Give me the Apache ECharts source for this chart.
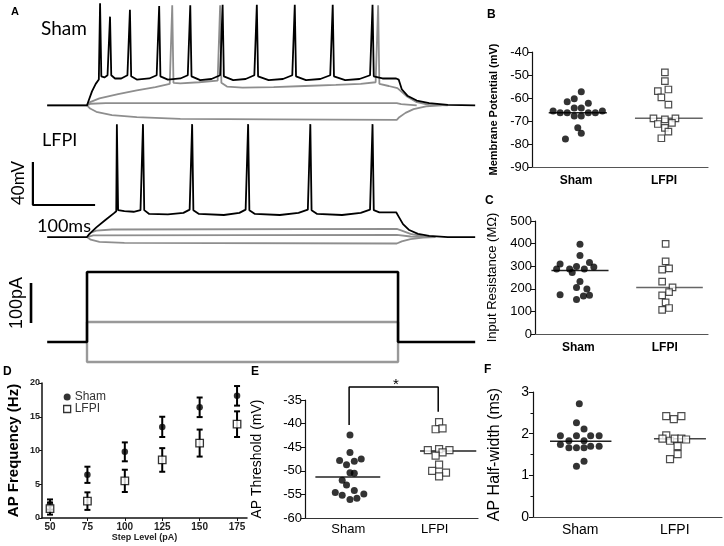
<!DOCTYPE html>
<html><head><meta charset="utf-8">
<script src="https://cdn.jsdelivr.net/npm/echarts@6/dist/echarts.min.js"></script>
<style>html,body{margin:0;padding:0;background:#fff}#c{width:724px;height:546px}</style>
</head><body><div id="c"></div>
<script>
// ---------- Panel A traces (time ms, mV / pA) ----------
const shamBlack = [[36,-65],[100,-65],[103,-60],[108,-52],[114,-45],[119,-41],
 [121,30],[123,-38],[128,-39],[133,-37],
 [137,17.5],[139,-37],[145,-40],[155,-40],[165,-37],
 [169,24],[171,-38],[180,-41],[200,-40],[212,-37],
 [216,27.5],[218,-38],[230,-41],[250,-40],[262,-37],
 [266,28],[268,-38],[282,-41.5],[300,-40.5],[314,-37],
 [318,28.5],[320,-38],[335,-41.5],[355,-40.5],[369,-37],
 [373,28.5],[375,-38],[392,-41.5],[415,-40.5],[430,-37],
 [434,28.5],[436,-38],[452,-41.5],[475,-40.5],[491,-37],
 [495,28.5],[497,-38],[515,-41.5],[538,-40.5],[555,-37],
 [559,28.5],[561,-38],[575,-40],[597,-40],[599,-39],[601,-41],[606,-50],[615,-56],[630,-60.5],[650,-63],[680,-64.5],[724,-65]];
const shamGraySupra = [[36,-65],[100,-65],[105,-62],[120,-58.5],[150,-54.5],[180,-51],[210,-48],[233,-45],
 [237,28],[239,-44],[250,-44.5],[280,-43.5],[310,-42],
 [314,28],[316,-44],[325,-47.5],[350,-48.5],[400,-48],[450,-47],[500,-46],[540,-45],[564,-43.5],
 [568,28],[570,-45],[585,-47],[599,-49],[605,-52],[615,-57],[630,-62],[650,-64.5],[680,-65]];
const shamGrayHyper = [[100,-65],[105,-68],[115,-71],[140,-74],[180,-76],[250,-77.5],[400,-78],[598,-78.5],[602,-76],[612,-72],[625,-68.5],[645,-66],[670,-65]];
const shamGraySub = [[100,-65],[106,-63.5],[130,-63],[598,-63],[605,-63.8],[630,-65]];

const lfpiBlack = [[36,-65],[100,-65],[104,-62],[115,-56],[130,-49],[143,-43],[147,-41],
 [148,40],[150,-40],[160,-41],[175,-41.5],[186,-40],
 [190,40],[192,-40],[200,-43.5],[230,-44],[255,-42.5],[265,-39.5],
 [269,40],[271,-40],[280,-43.5],[320,-44.5],[345,-42.5],[355,-39.5],
 [359,40],[361,-40],[370,-43.5],[410,-44.5],[440,-42.5],[455,-39.5],
 [459,40],[461,-40],[470,-43.5],[510,-44.5],[540,-42.5],[555,-39.5],
 [559,40],[561,-40],[570,-42],[597,-42],[599,-43],[601,-46],[608,-53],[618,-58.5],[632,-62],[650,-64],[680,-65],[724,-65]];
const lfpiGrayUpper = [[100,-65],[106,-61],[115,-59],[140,-58],[598,-57.5],[606,-59],[620,-62],[640,-64.5],[660,-65]];
const lfpiGrayMid = [[100,-65],[110,-63.5],[598,-63],[620,-64.5],[640,-65]];
const lfpiGrayLower = [[100,-65],[106,-67.5],[120,-69.5],[160,-70.5],[598,-71],[606,-69],[620,-67],[640,-65.5],[660,-65]];

const currBlack = [[36,0],[100,0],[100,175],[600,175],[600,0],[724,0]];
const currGrayPos = [[100,0],[100,50],[600,50],[600,0]];
const currGrayNeg = [[100,0],[100,-50],[600,-50],[600,0]];

const scaleBarV = [[13,4.8],[13,-35.2],[113,-35.2]];   // 40 mV / 100 ms
const scaleBarI = [[10,47.5],[10,147.5]];              // 100 pA

// ---------- Panel B: membrane potential (mV) ----------
const bSham = [[1.06,-57.3],[0.98,-60.3],[0.90,-61.6],[1.14,-62.3],[0.98,-64.3],[1.06,-64.3],[0.74,-65.6],[1.30,-65.6],[0.82,-66.4],[0.90,-66.4],[1.14,-66.4],[1.22,-66.4],[0.98,-67.8],[1.06,-67.8],[1.02,-72.9],[1.06,-75.3],[0.88,-77.8]];
const bLfpi = [[2.01,-48.9],[2.01,-52.7],[2.05,-56.3],[1.93,-57.0],[1.97,-59.7],[2.05,-62.9],[1.88,-68.9],[2.01,-69.3],[2.13,-68.9],[1.93,-71.3],[2.09,-70.8],[2.01,-73.0],[2.05,-74.6],[1.97,-77.5]];
const bMeans = [-66.4, -68.8];

// ---------- Panel C: input resistance (MOhm) ----------
const cSham = [[1.02,397],[1.02,347],[0.79,310],[1.13,316],[0.98,299],[1.18,296],[0.75,288],[0.90,288],[1.07,288],[0.93,272],[1.02,232],[0.98,206],[1.10,199],[0.79,174],[1.13,171],[1.06,168],[0.98,153]];
const cLfpi = [[2.01,399],[2.01,321],[1.97,285],[2.05,290],[1.97,232],[2.09,206],[2.05,185],[1.97,171],[2.01,140],[2.05,115],[1.97,107]];
const cMeans = [281, 206];

// ---------- Panel D: AP frequency ----------
const dSteps = [50,75,100,125,150,175];
const dShamMean = [2.0,6.4,9.8,13.5,16.4,18.1];
const dShamErr = [0.75,1.2,1.4,1.5,1.45,1.45];
const dLfpiMean = [1.4,2.5,5.5,8.6,11.1,13.9];
const dLfpiErr = [0.9,1.3,1.65,1.75,2.0,1.9];

// ---------- Panel E: AP threshold (mV) ----------
const eSham = [[1.02,-42.4],[1.02,-46.1],[0.90,-47.8],[1.07,-48.0],[1.15,-47.5],[0.98,-48.7],[1.02,-50.4],[1.07,-50.5],[0.93,-52.0],[0.98,-53.0],[0.85,-54.6],[0.93,-55.2],[1.07,-54.2],[1.18,-54.9],[1.10,-55.8],[1.02,-56.1]];
const eLfpi = [[2.05,-39.7],[2.01,-41.2],[2.09,-41.0],[1.92,-45.6],[2.05,-45.4],[2.17,-45.6],[2.09,-46.1],[2.01,-46.8],[2.05,-48.7],[1.97,-50.0],[2.13,-50.4],[2.05,-51.2]];
const eMeans = [-51.3, -45.8];

// ---------- Panel F: AP half-width (ms) ----------
const fSham = [[0.99,2.72],[0.96,2.26],[1.04,2.11],[0.79,1.95],[0.96,1.95],[1.11,1.95],[1.20,1.95],[0.88,1.83],[1.04,1.83],[0.79,1.74],[0.88,1.66],[0.96,1.66],[1.04,1.66],[1.11,1.70],[1.20,1.70],[1.04,1.34],[0.96,1.22]];
const fLfpi = [[1.91,2.42],[1.99,2.35],[2.07,2.42],[1.91,1.96],[1.87,1.88],[1.95,1.83],[2.00,1.88],[2.07,1.88],[2.12,1.86],[2.03,1.70],[2.03,1.51],[1.95,1.39]];
const fMeans = [1.82, 1.88];

const groups = ['Sham','LFPI'];

// ================= build option =================
const FONT = '"Liberation Sans", Arial, sans-serif';
const AFONT = 'Lato, "Open Sans", sans-serif';
const grid = [
  {left:24.8, top:0,   width:451, height:126.85},
  {left:24.8, top:122, width:451, height:131.15},
  {left:24.8, top:262, width:451, height:104},
  {left:532, top:52,  width:176, height:115},
  {left:535, top:221, width:173, height:113},
  {left:42,  top:383, width:205, height:135},
  {left:305, top:400, width:173, height:118},
  {left:533, top:392, width:189, height:125}
].map(g => Object.assign({outerBoundsMode:'none', containLabel:false}, g));

const xAxis = [], yAxis = [];
// trace axes (hidden)
[[-85,33],[-80,42],[-60,200]].forEach((r,i) => {
  xAxis.push({gridIndex:i, type:'value', min:0, max:725, show:false});
  yAxis.push({gridIndex:i, type:'value', min:r[0], max:r[1], show:false});
});
function catX(gi, fs, bold, margin, lineColor){
  return {gridIndex:gi, type:'value', min:0.5, max:2.5,
    axisLine:{show:true, lineStyle:{color:lineColor, width:1.2}},
    axisTick:{show:false}, splitLine:{show:false},
    axisLabel:{customValues:[1,2], formatter:v => groups[Math.round(v)-1], margin:margin,
      fontFamily:FONT, fontSize:fs, fontWeight:bold?'bold':'normal', color:'#000'}};
}
function valY(gi, min, max, interval, name, nfs, nbold, gap, extra){
  return Object.assign({gridIndex:gi, type:'value', min:min, max:max, interval:interval,
    name:name, nameLocation:'middle', nameGap:gap, nameRotate:90,
    nameTextStyle:{fontFamily:FONT, fontSize:nfs, fontWeight:nbold?'bold':'normal', color:'#000'},
    axisLine:{show:true, lineStyle:{color:'#111', width:1.2}},
    axisTick:{show:true, length:4, lineStyle:{color:'#111'}},
    splitLine:{show:false},
    axisLabel:{fontFamily:FONT, fontSize:13, color:'#000', margin:3}}, extra||{});
}
// B
xAxis.push(catX(3, 12, true, 8, '#555'));
yAxis.push(valY(3, -90, -40, 10, 'Membrane Potential (mV)', 11, true, 33));
// C
xAxis.push(catX(4, 12, true, 8, '#555'));
yAxis.push(valY(4, 0, 500, 100, 'Input Resistance (M\u03A9)', 13, false, 36));
// D
xAxis.push({gridIndex:5, type:'value', min:44.65, max:181.65,
  name:'Step Level (pA)', nameLocation:'middle', nameGap:15,
  nameTextStyle:{fontFamily:FONT, fontSize:9, fontWeight:'bold', color:'#222'},
  axisLine:{show:true, lineStyle:{color:'#111', width:1.5}},
  axisTick:{show:true, customValues:dSteps, length:3, lineStyle:{color:'#111'}},
  splitLine:{show:false},
  axisLabel:{customValues:dSteps, fontFamily:FONT, fontSize:10, fontWeight:'bold', color:'#222', margin:4}});
yAxis.push(valY(5, 0, 20, 5, 'AP Frequency (Hz)', 15, true, 21, {
  axisLine:{show:true, lineStyle:{color:'#111', width:1.5}},
  axisTick:{show:true, length:3, lineStyle:{color:'#111'}},
  axisLabel:{fontFamily:FONT, fontSize:9, fontWeight:'bold', color:'#222', margin:2}}));
// E
xAxis.push(catX(6, 13, false, 5, '#333'));
yAxis.push(valY(6, -60, -35, 5, 'AP Threshold (mV)', 14, false, 41));
// F
xAxis.push(catX(7, 14, false, 6, '#444'));
yAxis.push(valY(7, 0, 3, 1, 'AP Half-width (ms)', 16, false, 30, {
  minorTick:{show:true, splitNumber:2, length:2.5, lineStyle:{color:'#111'}},
  axisLabel:{fontFamily:FONT, fontSize:14, color:'#000', margin:4}}));

const series = [];
function trace(name, data, gi, color, width){
  series.push({name:name, type:'line', xAxisIndex:gi, yAxisIndex:gi, data:data,
    symbol:'none', silent:true, lineStyle:{color:color, width:width}});
}
const GRAY = '#8e8e8e';
trace('sg1', shamGrayHyper, 0, GRAY, 1.8);
trace('sg2', shamGraySub, 0, GRAY, 1.8);
trace('sg3', shamGraySupra, 0, GRAY, 1.8);
trace('sb', shamBlack, 0, '#000', 1.8);
trace('lg1', lfpiGrayUpper, 1, GRAY, 1.8);
trace('lg2', lfpiGrayMid, 1, GRAY, 1.8);
trace('lg3', lfpiGrayLower, 1, GRAY, 1.8);
trace('lb', lfpiBlack, 1, '#000', 1.8);
trace('scaleV', scaleBarV, 1, '#000', 2.2);
trace('cg1', currGrayNeg, 2, '#999', 2.4);
trace('cg2', currGrayPos, 2, '#999', 2.4);
trace('cb', currBlack, 2, '#000', 2.6);
trace('scaleI', scaleBarI, 2, '#000', 2.6);

function dots(name, data, gi, filled, size){
  series.push({name:name, type:'scatter', xAxisIndex:gi, yAxisIndex:gi, data:data,
    symbol: filled ? 'circle' : 'rect', symbolSize: size,
    itemStyle: filled ? {color:'#000'} : {color:'#fff', borderColor:'#222', borderWidth:1.2}, z:3});
}
function meanLine(name, m, x1, x2, gi, color){
  series.push({name:name, type:'line', xAxisIndex:gi, yAxisIndex:gi, data:[[x1,m],[x2,m]],
    symbol:'none', silent:true, lineStyle:{color:color, width:1.5}, z:2});
}
// B
dots('bS', bSham, 3, true, 7); dots('bL', bLfpi, 3, false, 6.5);
meanLine('bSm', bMeans[0], 0.69, 1.35, 3, '#222'); meanLine('bLm', bMeans[1], 1.67, 2.44, 3, '#666');
// C
dots('cS', cSham, 4, true, 7); dots('cL', cLfpi, 4, false, 6.5);
meanLine('cSm', cMeans[0], 0.69, 1.35, 4, '#222'); meanLine('cLm', cMeans[1], 1.67, 2.44, 4, '#666');
// E
dots('eS', eSham, 6, true, 7); dots('eL', eLfpi, 6, false, 7);
meanLine('eSm', eMeans[0], 0.62, 1.37, 6, '#222'); meanLine('eLm', eMeans[1], 1.83, 2.48, 6, '#222');
series.push({name:'sig', type:'line', xAxisIndex:6, yAxisIndex:6, clip:false, silent:true, symbol:'none',
  data:[[1.01,-40.3],[1.01,-32.25],[2.04,-32.25],[2.04,-37.5]], lineStyle:{color:'#000', width:1.5}});
// F
dots('fS', fSham, 7, true, 7); dots('fL', fLfpi, 7, false, 7);
meanLine('fSm', fMeans[0], 0.68, 1.33, 7, '#222'); meanLine('fLm', fMeans[1], 1.78, 2.33, 7, '#444');
// D error bars + points
function errBars(name, means, errs){
  series.push({name:name, type:'custom', xAxisIndex:5, yAxisIndex:5, silent:true,
    data: dSteps.map((s,i)=>[s, means[i], errs[i]]),
    encode:{x:0, y:1},
    renderItem:function(params, api){
      const x = api.value(0), m = api.value(1), e = api.value(2);
      const t = api.coord([x, m+e]), b = api.coord([x, m-e]);
      const cw = 3;
      const st = {stroke:'#000', lineWidth:2};
      return {type:'group', children:[
        {type:'line', shape:{x1:t[0], y1:t[1], x2:b[0], y2:b[1]}, style:st},
        {type:'line', shape:{x1:t[0]-cw, y1:t[1], x2:t[0]+cw, y2:t[1]}, style:st},
        {type:'line', shape:{x1:b[0]-cw, y1:b[1], x2:b[0]+cw, y2:b[1]}, style:st}
      ]};
    }});
}
errBars('dSe', dShamMean, dShamErr);
errBars('dLe', dLfpiMean, dLfpiErr);
series.push({name:'Sham', type:'scatter', xAxisIndex:5, yAxisIndex:5, symbol:'circle', symbolSize:6.5,
  data: dSteps.map((s,i)=>[s, dShamMean[i]]), itemStyle:{color:'#000'}, z:4});
series.push({name:'LFPI', type:'scatter', xAxisIndex:5, yAxisIndex:5, symbol:'rect', symbolSize:7.5,
  data: dSteps.map((s,i)=>[s, dLfpiMean[i]]), itemStyle:{color:'#fff', borderColor:'#000', borderWidth:1.3}, z:4});

function txt(text, x, y, font, opts){
  return Object.assign({type:'text', x:x, y:y, silent:true,
    style:Object.assign({text:text, font:font, fill:'#000', textAlign:'left', textVerticalAlign:'middle'}, (opts&&opts.style)||{})},
    opts&&opts.rotation!==undefined ? {rotation:opts.rotation} : {});
}
const graphic = [
  txt('A', 11, 12, 'bold 11px '+FONT),
  txt('B', 487, 15, 'bold 12px '+FONT),
  txt('C', 485, 201, 'bold 12px '+FONT),
  txt('D', 3, 372, 'bold 12px '+FONT),
  txt('E', 251, 372, 'bold 12px '+FONT),
  txt('F', 484, 370, 'bold 12px '+FONT),
  txt('Sham', 41, 29, '19px '+AFONT),
  txt('LFPI', 42, 140, '18px '+AFONT),
  txt('100ms', 37, 226, '18px '+AFONT),
  txt('40mV', 19, 183, '17px '+AFONT, {rotation:Math.PI/2, style:{textAlign:'center'}}),
  txt('100pA', 17.5, 303, '18px '+FONT, {rotation:Math.PI/2, style:{textAlign:'center'}}),
  txt('*', 396, 385, '15px '+FONT, {style:{textAlign:'center'}})
];

const option = {
  animation:false,
  backgroundColor:'#fff',
  textStyle:{fontFamily:FONT},
  grid:grid, xAxis:xAxis, yAxis:yAxis, series:series, graphic:graphic,
  legend:{data:[{name:'Sham', icon:'circle', itemStyle:{color:'#000'}},
                {name:'LFPI', icon:'rect', itemStyle:{color:'#fff', borderColor:'#000', borderWidth:1.3}}],
    orient:'vertical', left:58, top:386, itemWidth:7, itemHeight:7, itemGap:0, selectedMode:false,
    textStyle:{fontFamily:FONT, fontSize:12, color:'#333', lineHeight:11, padding:[0,0,0,-1]}}
};
const chart = echarts.init(document.getElementById('c'), null, {renderer:'canvas'});
chart.setOption(option);
</script></body></html>
